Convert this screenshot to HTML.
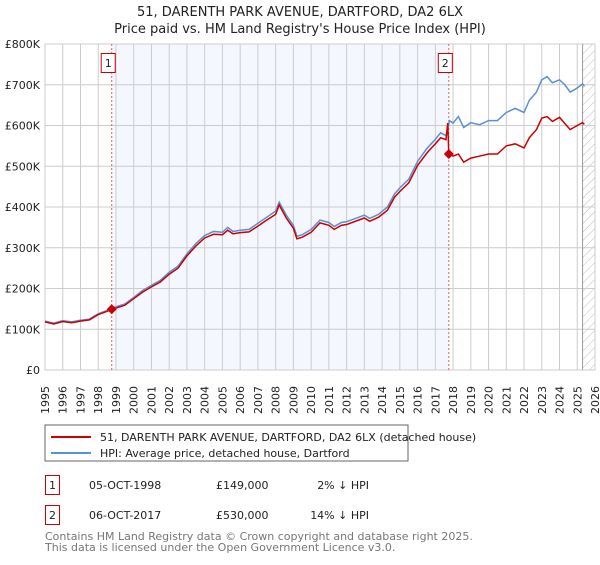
<!DOCTYPE html>
<html><head><meta charset="utf-8"><style>
body{margin:0;width:600px;height:560px;background:#fff;font-family:"Liberation Sans","DejaVu Sans",sans-serif;overflow:hidden}
svg text{font-family:"DejaVu Sans","Liberation Sans",sans-serif}
</style></head><body>
<svg width="600" height="560" id="chart">
<defs><pattern id="hatch" width="6" height="6" patternUnits="userSpaceOnUse" patternTransform="rotate(45)"><line x1="0" y1="0" x2="0" y2="6" stroke="#bbb" stroke-width="1"/></pattern></defs>
<text x="300" y="16" text-anchor="middle" font-size="13" fill="#222">51, DARENTH PARK AVENUE, DARTFORD, DA2 6LX</text>
<text x="300" y="33" text-anchor="middle" font-size="13" fill="#222">Price paid vs. HM Land Registry's House Price Index (HPI)</text>
<g id="plot"></g>
<rect x="45" y="425" width="363" height="36" fill="#fff" stroke="#666"/>
<line x1="51" y1="437" x2="91" y2="437" stroke="#cc0000" stroke-width="2"/>
<text x="100" y="441" font-size="11" fill="#222">51, DARENTH PARK AVENUE, DARTFORD, DA2 6LX (detached house)</text>
<line x1="51" y1="453" x2="91" y2="453" stroke="#5b8fd6" stroke-width="2"/>
<text x="100" y="457" font-size="11" fill="#222">HPI: Average price, detached house, Dartford</text>
<g>
<rect x="45.5" y="475.5" width="14" height="19" fill="#fff" stroke="#cc0000"/>
<text x="52.5" y="489" text-anchor="middle" font-size="11" fill="#222">1</text>
<text x="89" y="489" font-size="11" fill="#222">05-OCT-1998</text>
<text x="216" y="489" font-size="11" fill="#222">£149,000</text>
<text x="369" y="489" text-anchor="end" font-size="11" fill="#222">2% ↓ HPI</text></g>
<g>
<rect x="45.5" y="505.5" width="14" height="19" fill="#fff" stroke="#cc0000"/>
<text x="52.5" y="519" text-anchor="middle" font-size="11" fill="#222">2</text>
<text x="89" y="519" font-size="11" fill="#222">06-OCT-2017</text>
<text x="216" y="519" font-size="11" fill="#222">£530,000</text>
<text x="369" y="519" text-anchor="end" font-size="11" fill="#222">14% ↓ HPI</text></g>
<text x="45" y="540" font-size="11" fill="#777">Contains HM Land Registry data © Crown copyright and database right 2025.</text>
<text x="45" y="551" font-size="11" fill="#777">This data is licensed under the Open Government Licence v3.0.</text>
</svg>
<script>
const yTicks=[0,100,200,300,400,500,600,700,800];
const yTickLabels=["£0","£100K","£200K","£300K","£400K","£500K","£600K","£700K","£800K"];
const xTicks=[1995,1996,1997,1998,1999,2000,2001,2002,2003,2004,2005,2006,2007,2008,2009,2010,2011,2012,2013,2014,2015,2016,2017,2018,2019,2020,2021,2022,2023,2024,2025,2026];
const hpiYears=[1995,1995.5,1996,1996.5,1997,1997.5,1998,1998.5,1998.76,1999,1999.5,2000,2000.5,2001,2001.5,2002,2002.5,2003,2003.5,2004,2004.5,2005,2005.3,2005.6,2006,2006.5,2007,2007.5,2008,2008.2,2008.6,2009,2009.2,2009.5,2010,2010.5,2011,2011.3,2011.7,2012,2012.5,2013,2013.3,2013.8,2014.3,2014.7,2015,2015.5,2016,2016.5,2016.7,2017,2017.3,2017.6,2017.8,2018,2018.3,2018.6,2019,2019.5,2020,2020.5,2021,2021.5,2022,2022.3,2022.7,2023,2023.3,2023.6,2024,2024.3,2024.6,2025,2025.3,2025.4];
const hpiValues=[120,115,121,118,122,125,138,146,152,155,162,178,195,208,220,240,255,285,310,330,340,338,350,340,343,345,360,375,390,412,380,355,328,332,345,368,362,352,362,364,372,380,372,382,400,432,447,468,512,542,552,566,582,575,612,606,622,595,607,602,612,612,632,642,632,662,682,712,720,705,712,700,682,692,702,697];
const saleYears=[1998.76,2017.76];
const salePrices=[149,530];
const saleLabels=["1","2"];
const redYears=[1995,1995.5,1996,1996.5,1997,1997.5,1998,1998.5,1998.76,1999,1999.5,2000,2000.5,2001,2001.5,2002,2002.5,2003,2003.5,2004,2004.5,2005,2005.3,2005.6,2006,2006.5,2007,2007.5,2008,2008.2,2008.6,2009,2009.2,2009.5,2010,2010.5,2011,2011.3,2011.7,2012,2012.5,2013,2013.3,2013.8,2014.3,2014.7,2015,2015.5,2016,2016.5,2016.7,2017,2017.3,2017.6,2017.7,2017.76,2018,2018.3,2018.6,2019,2019.5,2020,2020.5,2021,2021.5,2022,2022.3,2022.7,2023,2023.3,2023.6,2024,2024.3,2024.6,2025,2025.3,2025.4];
const redValues=[118,113,119,116,120,123,136,144,149,152,159,175,191,204,216,235,250,280,304,324,333,332,343,334,337,339,353,368,382,405,373,348,322,326,338,361,355,345,355,357,365,373,365,375,392,424,438,459,502,531,541,555,570,565,606,530,525,530,510,520,525,530,530,550,555,545,570,590,618,622,610,620,605,590,600,607,603];
const NS="http://www.w3.org/2000/svg";
const g=document.getElementById('plot');
const X0=45,X1=595,Y0=370,Y1=44;
const xs=y=>X0+(y-1995)/31*(X1-X0);
const ys=v=>Y0-v/800*(Y0-Y1);
function mk(t,a){const e=document.createElementNS(NS,t);for(const k in a)e.setAttribute(k,a[k]);g.appendChild(e);return e;}
let r=mk('rect',{x:xs(saleYears[0]),y:Y1,width:xs(saleYears[1])-xs(saleYears[0]),height:Y0-Y1,fill:'#f4f7fe'});

r=mk('rect',{x:xs(2025.3),y:Y1,width:X1-xs(2025.3),height:Y0-Y1,fill:'url(#hatch)'});

xTicks.forEach((t,i)=>{const l=mk('line',{x1:xs(t),x2:xs(t),y1:Y1,y2:Y0,stroke:'#ccc','stroke-width':1});

const tx=mk('text',{x:0,y:0,transform:`translate(${xs(t)+4},${Y0+44}) rotate(-90)`,'font-size':11,fill:'#222'});tx.textContent=t;
});
yTicks.forEach((t,i)=>{const l=mk('line',{x1:X0,x2:X1,y1:ys(t),y2:ys(t),stroke:'#ccc','stroke-width':1});

const tx=mk('text',{x:40,y:ys(t)+4,'text-anchor':'end','font-size':11,fill:'#222'});tx.textContent=yTickLabels[i];
});
r=mk('line',{x1:xs(2025.3),x2:xs(2025.3),y1:Y1,y2:Y0,stroke:'#999','stroke-width':1});

r=mk('rect',{x:X0,y:Y1,width:X1-X0,height:Y0-Y1,fill:'none',stroke:'#ccc'});

saleYears.forEach((s,i)=>{const l=mk('line',{x1:xs(s),x2:xs(s),y1:Y1,y2:Y0,stroke:'#e06060','stroke-width':1,'stroke-dasharray':'2,2'});

const b=mk('rect',{x:xs(s)-10.5,y:53.5,width:14,height:19,fill:'#fff',stroke:'#cc0000'});

const t=mk('text',{x:xs(s)-3.5,y:67,'text-anchor':'middle','font-size':11,fill:'#222'});t.textContent=saleLabels[i];
});
let p=mk('polyline',{points:hpiYears.map((y,i)=>xs(y)+','+ys(hpiValues[i])).join(' '),fill:'none',stroke:'#5b8fd6','stroke-width':1.5});

p=mk('polyline',{points:redYears.map((y,i)=>xs(y)+','+ys(redValues[i])).join(' '),fill:'none',stroke:'#cc0000','stroke-width':1.5});

saleYears.forEach((s,i)=>{const cx=xs(s),cy=ys(salePrices[i]);
const d=mk('polygon',{points:`${cx},${cy-5} ${cx+5},${cy} ${cx},${cy+5} ${cx-5},${cy}`,fill:'#cc0000'});
});
</script>
</body></html>
